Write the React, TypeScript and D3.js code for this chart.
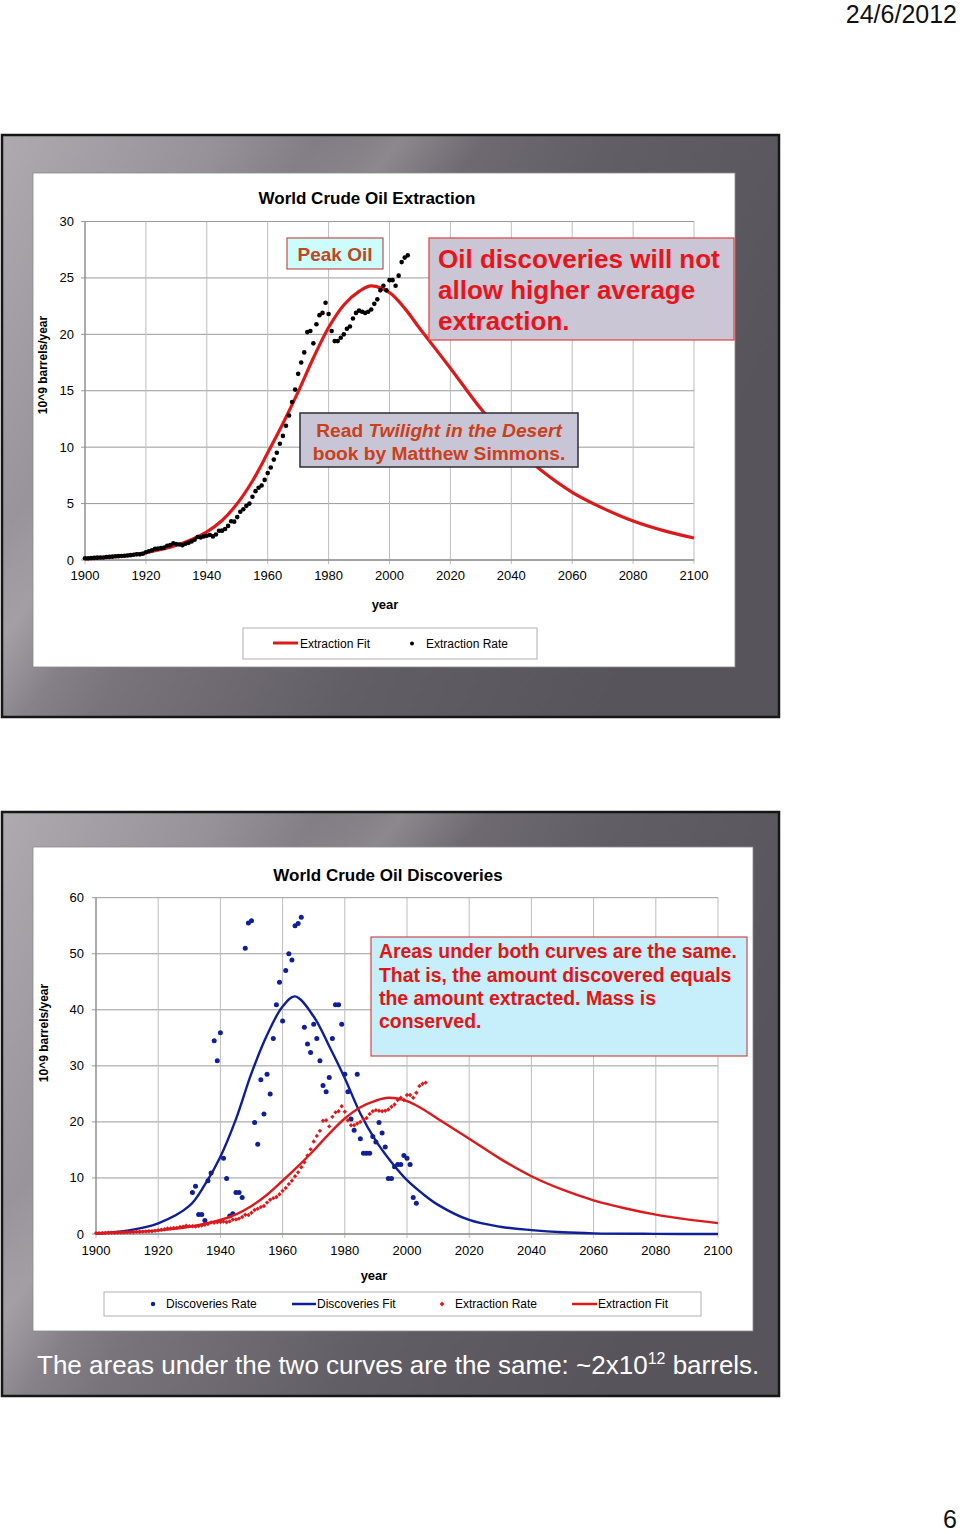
import React from "react";
import * as d3 from "d3";

// ---------- DATA ----------
const extractionYears = d3.range(1900, 2007);
const extractionRate = [
  0.15, 0.16, 0.18, 0.19, 0.21, 0.22, 0.22, 0.26, 0.28, 0.3,
  0.33, 0.34, 0.35, 0.38, 0.4, 0.43, 0.46, 0.5, 0.5, 0.56,
  0.69, 0.77, 0.86, 1.0, 1.01, 1.07, 1.1, 1.26, 1.32, 1.49,
  1.41, 1.37, 1.31, 1.44, 1.52, 1.65, 1.79, 2.04, 1.99, 2.09,
  2.15, 2.22, 2.09, 2.26, 2.59, 2.6, 2.75, 3.02, 3.43, 3.4,
  3.8, 4.28, 4.5, 4.8, 5.0, 5.6, 6.1, 6.4, 6.6, 7.1,
  7.7, 8.2, 8.9, 9.5, 10.3, 11.0, 11.9, 12.8, 14.0, 15.1,
  16.5, 17.5, 18.4, 20.2, 20.3, 19.2, 20.9, 21.7, 21.9, 22.8,
  21.8, 20.3, 19.4, 19.4, 19.7, 20.0, 20.5, 20.7, 21.4, 21.9,
  22.1, 22.0, 21.9, 22.0, 22.2, 22.7, 23.1, 23.9, 24.3, 23.9,
  24.8, 24.8, 24.3, 25.2, 26.4, 26.8, 27.0,
];

const discoveryYears = d3.range(1931, 2004);
const discoveryRate = [
  7.4, 8.5, 3.5, 3.5, 2.4, 9.5, 10.9, 34.5, 30.9, 35.9,
  13.5, 9.9, 3.2, 3.6, 7.4, 7.4, 6.5, 51.0, 55.5, 55.9,
  19.9, 16.0, 27.5, 21.4, 28.5, 25.0, 34.9, 40.9, 44.9, 38.0,
  47.0, 50.0, 48.9, 55.0, 55.4, 56.5, 36.9, 33.9, 32.4, 37.4,
  34.9, 30.9, 26.5, 25.4, 27.9, 34.9, 40.9, 40.9, 37.4, 28.5,
  25.4, 20.5, 18.5, 28.5, 17.0, 14.4, 14.4, 14.4, 17.4, 16.4,
  19.9, 18.0, 15.5, 9.9, 9.9, 12.0, 12.4, 12.4, 14.0, 13.5,
  12.4, 6.5, 5.5,
];

const extractionFitYears = [1900, 1910, 1920, 1930, 1940, 1945, 1950, 1955, 1960, 1965, 1970, 1975, 1980, 1985, 1990, 1994, 2000, 2005, 2010, 2020, 2030, 2040, 2050, 2060, 2070, 2080, 2090, 2100];
const extractionFit = [0.1, 0.3, 0.65, 1.3, 2.5, 3.5, 5.0, 7.0, 9.5, 12.1, 14.9, 17.9, 20.6, 22.6, 23.8, 24.3, 23.7, 22.3, 20.5, 17.0, 13.4, 10.3, 7.9, 6.0, 4.6, 3.45, 2.6, 1.95];

const discoveryFitYears = [1900, 1910, 1920, 1930, 1935, 1940, 1945, 1950, 1955, 1960, 1964, 1970, 1975, 1980, 1985, 1990, 1995, 2000, 2005, 2010, 2020, 2030, 2040, 2050, 2060, 2080, 2100];
const discoveryFit = [0.1, 0.6, 1.9, 5.0, 8.8, 13.8, 20.5, 28.7, 35.5, 40.6, 42.4, 38.8, 33.5, 27.8, 21.5, 16.6, 12.8, 9.6, 7.2, 5.2, 2.5, 1.3, 0.7, 0.3, 0.12, 0.03, 0.0];

const xTickYears = [1900, 1920, 1940, 1960, 1980, 2000, 2020, 2040, 2060, 2080, 2100];
const yTicksExtraction = [0, 5, 10, 15, 20, 25, 30];
const yTicksDiscovery = [0, 10, 20, 30, 40, 50, 60];

// ---------- STYLE ----------
const FONT = "'Liberation Sans', Arial, Helvetica, sans-serif";
const RED = "#dc1a1c";
const BLUE = "#0e1f98";

type Pt = [number, number];

function Frame({ x, y, w, h, id }: { x: number; y: number; w: number; h: number; id: string }) {
  return (
    <g>
      <defs>
        <linearGradient id={id} x1="0" y1="0" x2="1" y2="0.35">
          <stop offset="0" stopColor="#aeaab0" />
          <stop offset="0.25" stopColor="#969198" />
          <stop offset="0.42" stopColor="#79747b" />
          <stop offset="0.7" stopColor="#625e65" />
          <stop offset="1" stopColor="#58545b" />
        </linearGradient>
        <linearGradient id={id + "s"} x1="0" y1="0" x2="1" y2="0.6">
          <stop offset="0.3" stopColor="#ffffff" stopOpacity="0" />
          <stop offset="0.38" stopColor="#ffffff" stopOpacity="0.16" />
          <stop offset="0.46" stopColor="#ffffff" stopOpacity="0" />
        </linearGradient>
      </defs>
      <rect x={x} y={y} width={w} height={h} fill={`url(#${id})`} stroke="#161616" strokeWidth={2.5} />
      <rect x={x + 1.5} y={y + 1.5} width={w - 3} height={h - 3} fill={`url(#${id}s)`} />
    </g>
  );
}

function Grid({ x, y, ticksY, x0, x1 }: any) {
  return (
    <g>
      {ticksY.map((t: number) => (
        <line key={"h" + t} x1={x0 - 4} x2={x1} y1={y(t)} y2={y(t)} stroke="#9a9a9a" strokeWidth={1} />
      ))}
      {xTickYears.map((t) => (
        <line key={"v" + t} x1={x(t)} x2={x(t)} y1={y(ticksY[ticksY.length - 1])} y2={y(0) + 4} stroke="#bdbdbd" strokeWidth={1} />
      ))}
      <line x1={x0} x2={x0} y1={y(ticksY[ticksY.length - 1])} y2={y(0)} stroke="#7a7a7a" strokeWidth={1} />
      <line x1={x0} x2={x1} y1={y(0)} y2={y(0)} stroke="#7a7a7a" strokeWidth={1} />
    </g>
  );
}

export default function App() {
  // Chart 1 scales
  const x1 = d3.scaleLinear().domain([1900, 2100]).range([85, 694]);
  const y1 = d3.scaleLinear().domain([0, 30]).range([560, 221.5]);
  // Chart 2 scales
  const x2 = d3.scaleLinear().domain([1900, 2100]).range([96, 718]);
  const y2 = d3.scaleLinear().domain([0, 60]).range([1234, 897.7]);

  const curve = d3.curveCatmullRom.alpha(0.5);
  const line1 = d3.line<Pt>().x((d) => x1(d[0])).y((d) => y1(d[1])).curve(curve);
  const line2 = d3.line<Pt>().x((d) => x2(d[0])).y((d) => y2(Math.max(0, d[1]))).curve(curve);

  const extFitPts: Pt[] = extractionFitYears.map((yr, i) => [yr, extractionFit[i]]);
  const discFitPts: Pt[] = discoveryFitYears.map((yr, i) => [yr, discoveryFit[i]]);

  const diamond = (cx: number, cy: number, r: number) =>
    `M${cx},${cy - r}L${cx + r},${cy}L${cx},${cy + r}L${cx - r},${cy}Z`;

  return (
    <div style={{ position: "absolute", left: 0, top: 0, width: 960, height: 1534, background: "#fff" }}>
      <svg width={960} height={1534} style={{ display: "block", fontFamily: FONT }}>
        <rect x={0} y={0} width={960} height={1534} fill="#ffffff" />
        {/* header date */}
        <text x={957} y={23} textAnchor="end" fontSize={25} fill="#111">24/6/2012</text>

        {/* ================= CHART 1 ================= */}
        <Frame x={2} y={135} w={777} h={582} id="fr1" />
        <rect x={33} y={173} width={702} height={494} fill="#ffffff" stroke="#8a8a8a" strokeWidth={0.8} />
        <text x={367} y={204} textAnchor="middle" fontSize={17} fontWeight="bold" fill="#000">World Crude Oil Extraction</text>
        <Grid x={x1} y={y1} ticksY={yTicksExtraction} x0={85} x1={694} />
        {yTicksExtraction.map((t) => (
          <text key={t} x={74} y={y1(t) + 4.5} textAnchor="end" fontSize={13} fill="#000">{t}</text>
        ))}
        {xTickYears.map((t) => (
          <text key={t} x={x1(t)} y={580} textAnchor="middle" fontSize={13} fill="#000">{t}</text>
        ))}
        <text x={385} y={609} textAnchor="middle" fontSize={13} fontWeight="bold" fill="#000">year</text>
        <text transform="translate(47,365) rotate(-90)" textAnchor="middle" fontSize={12} fontWeight="bold" fill="#000">10^9 barrels/year</text>

        <path d={line1(extFitPts) || ""} fill="none" stroke={RED} strokeWidth={3.2} />
        {extractionRate.map((v, i) => (
          <circle key={i} cx={x1(extractionYears[i])} cy={y1(v)} r={2.3} fill="#000" />
        ))}

        {/* annotations chart 1 */}
        <rect x={287} y={238} width={96} height={31} fill="#ccfcfc" stroke="#c0504d" strokeWidth={1.2} />
        <text x={335} y={261} textAnchor="middle" fontSize={19} fontWeight="bold" fill="#c0461e">Peak Oil</text>

        <rect x={429} y={238} width={305} height={102} fill="#cbc6d6" stroke="#e0403c" strokeWidth={1.2} />
        <g fontSize={26} fontWeight="bold" fill="#e8141c">
          <text x={438} y={268}>Oil discoveries will not</text>
          <text x={438} y={299}>allow higher average</text>
          <text x={438} y={330}>extraction.</text>
        </g>

        <rect x={300} y={413} width={278} height={54} fill="#c8c6d6" stroke="#2c2c34" strokeWidth={1.5} />
        <g fontSize={19.2} fontWeight="bold" fill="#c8401c" textAnchor="middle">
          <text x={439} y={437}>
            Read <tspan fontStyle="italic">Twilight in the Desert</tspan>
          </text>
          <text x={439} y={460}>book by Matthew Simmons.</text>
        </g>

        {/* legend chart 1 */}
        <rect x={243} y={628} width={294} height={31} fill="#ffffff" stroke="#b0b0b0" strokeWidth={1} />
        <line x1={273} x2={298} y1={643} y2={643} stroke={RED} strokeWidth={3} />
        <text x={300} y={647.5} fontSize={12} fill="#000">Extraction Fit</text>
        <circle cx={412} cy={643.5} r={2} fill="#000" />
        <text x={426} y={647.5} fontSize={12} fill="#000">Extraction Rate</text>

        {/* ================= CHART 2 ================= */}
        <Frame x={2} y={812} w={777} h={584} id="fr2" />
        <rect x={33} y={847} width={720} height={484} fill="#ffffff" stroke="#8a8a8a" strokeWidth={0.8} />
        <text x={388} y={881} textAnchor="middle" fontSize={17} fontWeight="bold" fill="#000">World Crude Oil Discoveries</text>
        <Grid x={x2} y={y2} ticksY={yTicksDiscovery} x0={96} x1={718} />
        {yTicksDiscovery.map((t) => (
          <text key={t} x={84} y={y2(t) + 4.5} textAnchor="end" fontSize={13} fill="#000">{t}</text>
        ))}
        {xTickYears.map((t) => (
          <text key={t} x={x2(t)} y={1255} textAnchor="middle" fontSize={13} fill="#000">{t}</text>
        ))}
        <text x={374} y={1280} textAnchor="middle" fontSize={13} fontWeight="bold" fill="#000">year</text>
        <text transform="translate(48,1033) rotate(-90)" textAnchor="middle" fontSize={12} fontWeight="bold" fill="#000">10^9 barrels/year</text>

        {discoveryRate.map((v, i) => (
          <circle key={"d" + i} cx={x2(discoveryYears[i])} cy={y2(v)} r={2.5} fill={BLUE} />
        ))}
        <path d={line2(discFitPts) || ""} fill="none" stroke={BLUE} strokeWidth={2.4} />
        {extractionRate.map((v, i) => (
          <path key={"e" + i} d={diamond(x2(extractionYears[i]), y2(v), 2.2)} fill={RED} />
        ))}
        <path d={line2(extFitPts) || ""} fill="none" stroke={RED} strokeWidth={2.4} />

        {/* annotation chart 2 */}
        <rect x={371} y={937} width={376} height={119} fill="#c6effb" stroke="#d04848" strokeWidth={1.2} />
        <g fontSize={19.4} fontWeight="bold" fill="#e21414">
          <text x={379} y={958}>Areas under both curves are the same.</text>
          <text x={379} y={982}>That is, the amount discovered equals</text>
          <text x={379} y={1005}>the amount extracted. Mass is</text>
          <text x={379} y={1028}>conserved.</text>
        </g>

        {/* legend chart 2 */}
        <rect x={104} y={1292} width={597} height={24} fill="#ffffff" stroke="#b0b0b0" strokeWidth={1} />
        <circle cx={153} cy={1304} r={2.2} fill={BLUE} />
        <text x={166} y={1308} fontSize={12} fill="#000">Discoveries Rate</text>
        <line x1={292} x2={316} y1={1304} y2={1304} stroke={BLUE} strokeWidth={2.5} />
        <text x={317} y={1308} fontSize={12} fill="#000">Discoveries Fit</text>
        <path d={diamond(442, 1304, 2.4)} fill={RED} />
        <text x={455} y={1308} fontSize={12} fill="#000">Extraction Rate</text>
        <line x1={572} x2={597} y1={1304} y2={1304} stroke={RED} strokeWidth={2.5} />
        <text x={598} y={1308} fontSize={12} fill="#000">Extraction Fit</text>

        {/* footer text */}
        <text x={37} y={1374} fontSize={26} fill="#ffffff">
          The areas under the two curves are the same: ~2x10
          <tspan fontSize={16} dy={-10}>12</tspan>
          <tspan dy={10}> barrels.</tspan>
        </text>

        {/* page number */}
        <text x={957} y={1528} textAnchor="end" fontSize={25} fill="#111">6</text>
      </svg>
    </div>
  );
}
